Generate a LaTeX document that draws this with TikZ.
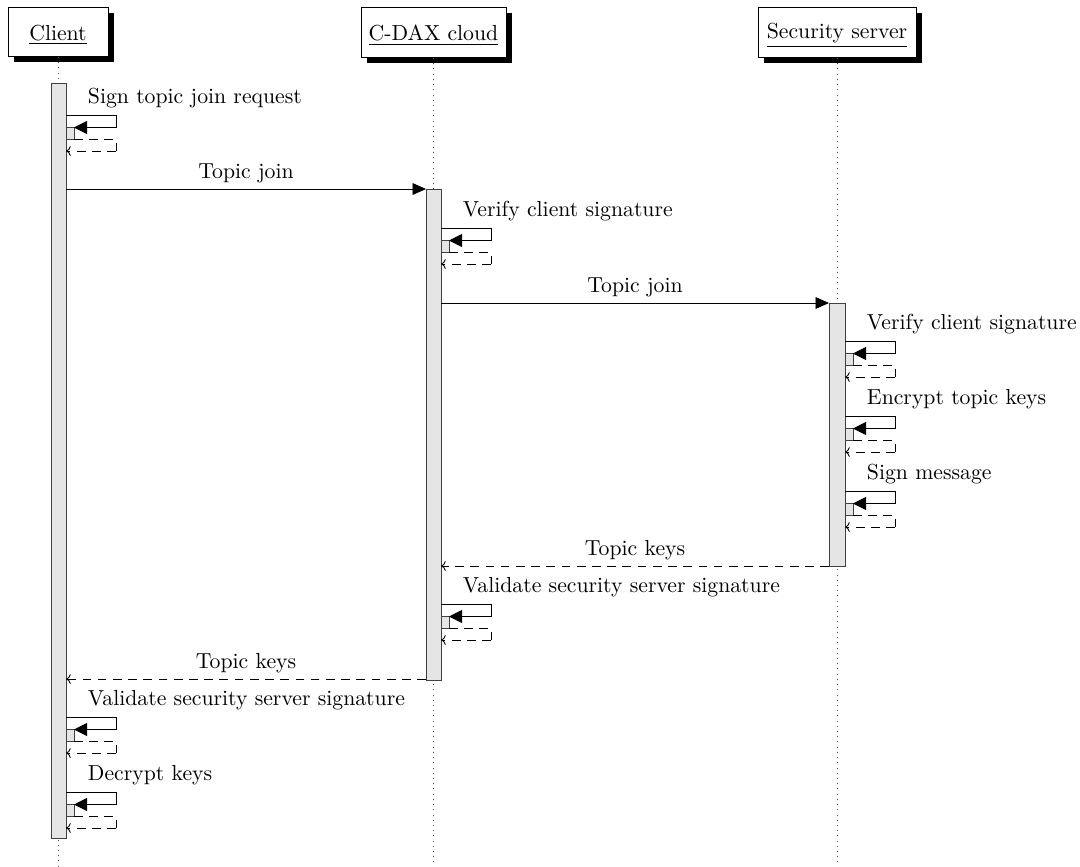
\documentclass[tikz,border=0pt]{standalone}
\usetikzlibrary{arrows.meta}

% Sequence diagram: client joins a topic through the C-DAX cloud and the security server
\tikzset{
  headbox/.style={draw, fill=white, line width=0.4pt},
  headshadow/.style={fill=black},
  lifeline/.style={dotted, line width=0.4pt, black!70},
  thread/.style={draw=black!75, fill=gray!20, line width=0.4pt},
  callmsg/.style={line width=0.4pt, -{Triangle[length=6.2pt,width=5.4pt]}},
  retmsg/.style={line width=0.4pt, dash pattern=on 4pt off 3pt, -{To[length=2.2pt,width=4.5pt]}},
  retline/.style={line width=0.4pt, dash pattern=on 4pt off 3pt},
  msglabel/.style={anchor=base, inner sep=0pt, yshift=4.8pt},
  calllabel/.style={anchor=base west, inner sep=0pt},
}

% #1 prefix, #2 right edge of the thread, #3 top of the call, #4 label
\newcommand\selfcall[4]{%
  \coordinate (#1-s) at (#2,#3);
  \coordinate (#1-c) at (#2+50,#3);
  \coordinate (#1-d) at (#2+50,#3+12.5);
  \coordinate (#1-r) at (#2+50,#3+24);
  \coordinate (#1-q) at (#2+50,#3+36);
  \coordinate (#1-e) at (#2,#3+36);
  \node[calllabel] (#1-lab) at (#2+21.5,#3-12) {#4};
  \draw[thread] (#2,#3+12.5) rectangle (#2+8,#3+24);
  \coordinate (#1-box) at (#2+8,#3+12.5);
  \coordinate (#1-boxb) at (#2+8,#3+24);
  \draw[line width=0.4pt, -{Triangle[length=6pt,width=6pt]}] (#1-s) -- (#1-c) -- (#1-d) -- (#1-box);
  \draw[retline] (#1-boxb) -- (#1-r) -- (#1-q);
  \draw[retmsg] (#1-q) -- (#1-e);
}

\begin{document}
\begin{tikzpicture}[x=0.46pt, y=-0.46pt]
  \useasboundingbox (0,0) rectangle (1080,866);

  % participants
  \fill[headshadow] (14,13) rectangle (114,62);
  \draw[headbox] (8,7) rectangle (108,56);
  \node (client) at (58,35) {\underline{Client}};

  \fill[headshadow] (367,13) rectangle (512,63);
  \draw[headbox] (361,7) rectangle (506,57);
  \node (cdax) at (433.5,35.5) {\underline{C-DAX cloud}};

  \fill[headshadow] (764,13) rectangle (922,63);
  \draw[headbox] (758,7) rectangle (916,57);
  \node (sec) at (837,35.5) {\underline{Security server}};

  % lifelines
  \coordinate (client-top) at (58.5,57);
  \coordinate (client-bot) at (58.5,866);
  \coordinate (cdax-top) at (433.5,58);
  \coordinate (cdax-bot) at (433.5,866);
  \coordinate (sec-top) at (837,58);
  \coordinate (sec-bot) at (837,866);
  \draw[lifeline] (client-top) -- (client-bot);
  \draw[lifeline] (cdax-top) -- (cdax-bot);
  \draw[lifeline] (sec-top) -- (sec-bot);

  % activation threads
  \draw[thread] (51,83) rectangle (66,838);
  \draw[thread] (426,189) rectangle (441,680);
  \draw[thread] (829,303) rectangle (845,566);

  % client signs the request
  \selfcall{c1}{66}{115}{Sign topic join request}

  % join request to the cloud
  \coordinate (j1-a) at (66,189);
  \coordinate (j1-b) at (426,189);
  \draw[callmsg] (j1-a) -- node[msglabel] (j1-lab) {Topic join} (j1-b);

  \selfcall{d1}{441}{228}{Verify client signature}

  % forwarded to the security server
  \coordinate (j2-a) at (441,303);
  \coordinate (j2-b) at (829,303);
  \draw[callmsg] (j2-a) -- node[msglabel] (j2-lab) {Topic join} (j2-b);

  \selfcall{s1}{845}{341}{Verify client signature}
  \selfcall{s2}{845}{416}{Encrypt topic keys}
  \selfcall{s3}{845}{491}{Sign message}

  % keys returned to the cloud
  \coordinate (k1-a) at (829,566);
  \coordinate (k1-b) at (441,566);
  \draw[retmsg] (k1-a) -- node[msglabel] (k1-lab) {Topic keys} (k1-b);

  \selfcall{d2}{441}{604}{Validate security server signature}

  % keys returned to the client
  \coordinate (k2-a) at (426,679);
  \coordinate (k2-b) at (66,679);
  \draw[retmsg] (k2-a) -- node[msglabel] (k2-lab) {Topic keys} (k2-b);

  \selfcall{c2}{66}{717}{Validate security server signature}
  \selfcall{c3}{66}{792}{Decrypt keys}
\end{tikzpicture}
\end{document}
